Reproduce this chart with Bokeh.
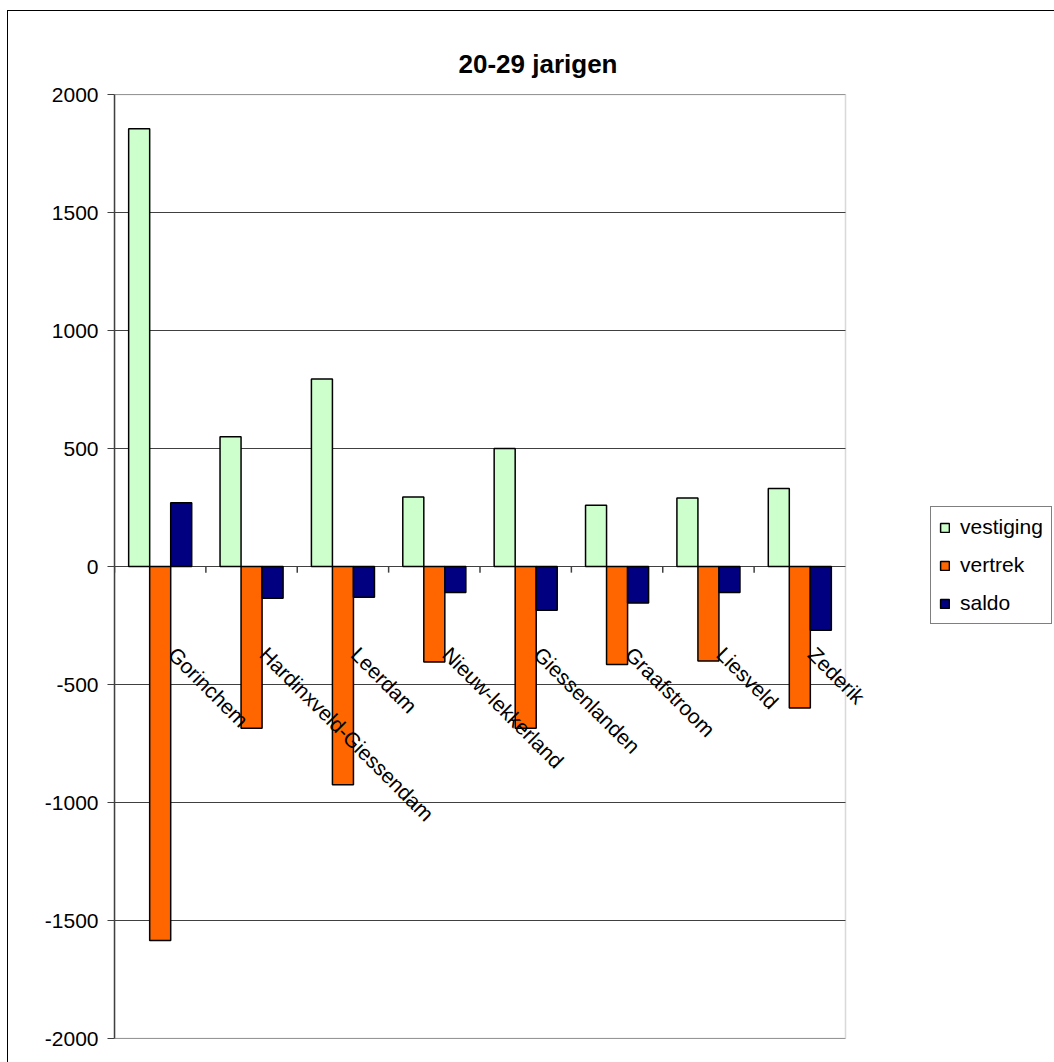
import math
from bokeh.plotting import figure
from bokeh.models import (Range1d, ColumnDataSource, Legend, LegendItem,
                          FixedTicker, Title, BoxAnnotation)
from bokeh.transform import dodge
from bokeh.core.properties import value
from bokeh.embed import file_html
from bokeh.resources import INLINE

# ---- data ----
categories = ["Gorinchem", "Hardinxveld-Giessendam", "Leerdam", "Nieuw-lekkerland",
              "Giessenlanden", "Graafstroom", "Liesveld", "Zederik"]
vestiging = [1855, 550, 795, 295, 500, 260, 290, 330]
vertrek = [-1585, -685, -925, -405, -685, -415, -400, -600]
saldo = [270, -135, -130, -110, -185, -155, -110, -270]
y_ticks = [-2000, -1500, -1000, -500, 0, 500, 1000, 1500, 2000]
title_text = "20-29 jarigen"

FONT = "Liberation Sans"
n = len(categories)
PLOT_W = 731     # pixel width of the bordered plot area
FRAME_W = 940    # drawing frame runs on to the right edge (room for legend)
x_end = n * FRAME_W / PLOT_W

centers = [i + 0.5 for i in range(n)]      # category slot centres
bounds = [float(i) for i in range(n)]      # category slot left edges
src = ColumnDataSource(dict(x=centers, left=bounds, cat=categories,
                            vestiging=vestiging, vertrek=vertrek, saldo=saldo))
grid_src = ColumnDataSource(dict(y=y_ticks, x0=[0] * len(y_ticks), x1=[n] * len(y_ticks)))

p = figure(width=1054, height=1062, output_backend="svg", toolbar_location=None,
           x_range=Range1d(0, x_end), y_range=Range1d(y_ticks[0], y_ticks[-1]),
           min_border_left=114, min_border_right=0, min_border_top=94, min_border_bottom=24)
p.background_fill_color = "white"
p.border_fill_alpha = 0
p.outline_line_color = None
# outer chart-area border (top and left edges visible in the window)
p.styles = {
    "background-color": "white",
    "background-image": "linear-gradient(#000,#000), linear-gradient(#000,#000)",
    "background-size": "100% 1px, 1px 100%",
    "background-position": "7px 10px, 7px 10px",
    "background-repeat": "no-repeat",
}

# title
p.title = Title(text=title_text, align="left", offset=344, standoff=32,
                text_font=FONT, text_font_size="26px", text_font_style="bold", text_color="black")

# axes
p.xaxis.visible = False
p.xgrid.visible = False
p.ygrid.visible = False
p.yaxis.ticker = FixedTicker(ticks=y_ticks)
p.yaxis.major_label_overrides = {t: str(t) for t in y_ticks}
p.yaxis.major_label_text_font = FONT
p.yaxis.major_label_text_font_size = "21px"
p.yaxis.major_label_text_color = "black"
p.yaxis.axis_line_color = "#404040"
p.yaxis.axis_line_width = 1.5
p.yaxis.major_tick_line_color = "#404040"
p.yaxis.major_tick_out = 7
p.yaxis.major_tick_in = 0
p.yaxis.minor_tick_line_color = None
p.yaxis.major_label_standoff = 9

# horizontal gridlines across the plot area
p.segment(x0="x0", y0="y", x1="x1", y1="y", source=grid_src, line_color="#404040", line_width=1)
# plot-area border
p.add_layout(BoxAnnotation(left=0, right=n, top=y_ticks[-1], bottom=y_ticks[0],
                           fill_alpha=0, line_color="#808080", line_width=1.5, level="underlay"))

# bars
w = 0.23
r1 = p.vbar(x=dodge("x", -w), top="vestiging", bottom=0, width=w, source=src,
            fill_color="#CCFFCC", line_color="black", line_width=1.5)
r2 = p.vbar(x="x", top="vertrek", bottom=0, width=w, source=src,
            fill_color="#FF6600", line_color="black", line_width=1.5)
r3 = p.vbar(x=dodge("x", w), top="saldo", bottom=0, width=w, source=src,
            fill_color="#000080", line_color="black", line_width=1.5)

# category boundary tick marks on the zero line
p.segment(x0="left", y0=0, x1="left", y1=-26,
          source=src, line_color="#404040", line_width=1.5)

# category labels (rotated, hanging below the zero line)
p.text(x="x", y=0, text="cat", source=src, angle=-math.pi / 4,
       x_offset=20, y_offset=76, text_align="left", text_baseline="top",
       text_font=value(FONT), text_font_size="21px", text_color="black")

# legend
legend = Legend(items=[LegendItem(label="vestiging", renderers=[r1]),
                       LegendItem(label="vertrek", renderers=[r2]),
                       LegendItem(label="saldo", renderers=[r3])],
                location=(816, 414))
legend.border_line_color = "black"
legend.border_line_width = 1
legend.background_fill_color = "white"
legend.background_fill_alpha = 1
legend.label_text_font = FONT
legend.label_text_font_size = "21px"
legend.label_text_color = "black"
legend.glyph_width = 11
legend.glyph_height = 11
legend.spacing = 14
legend.padding = 8
legend.margin = 0
legend.label_standoff = 10
p.add_layout(legend)

open("out.html", "w").write(file_html(p, INLINE))
